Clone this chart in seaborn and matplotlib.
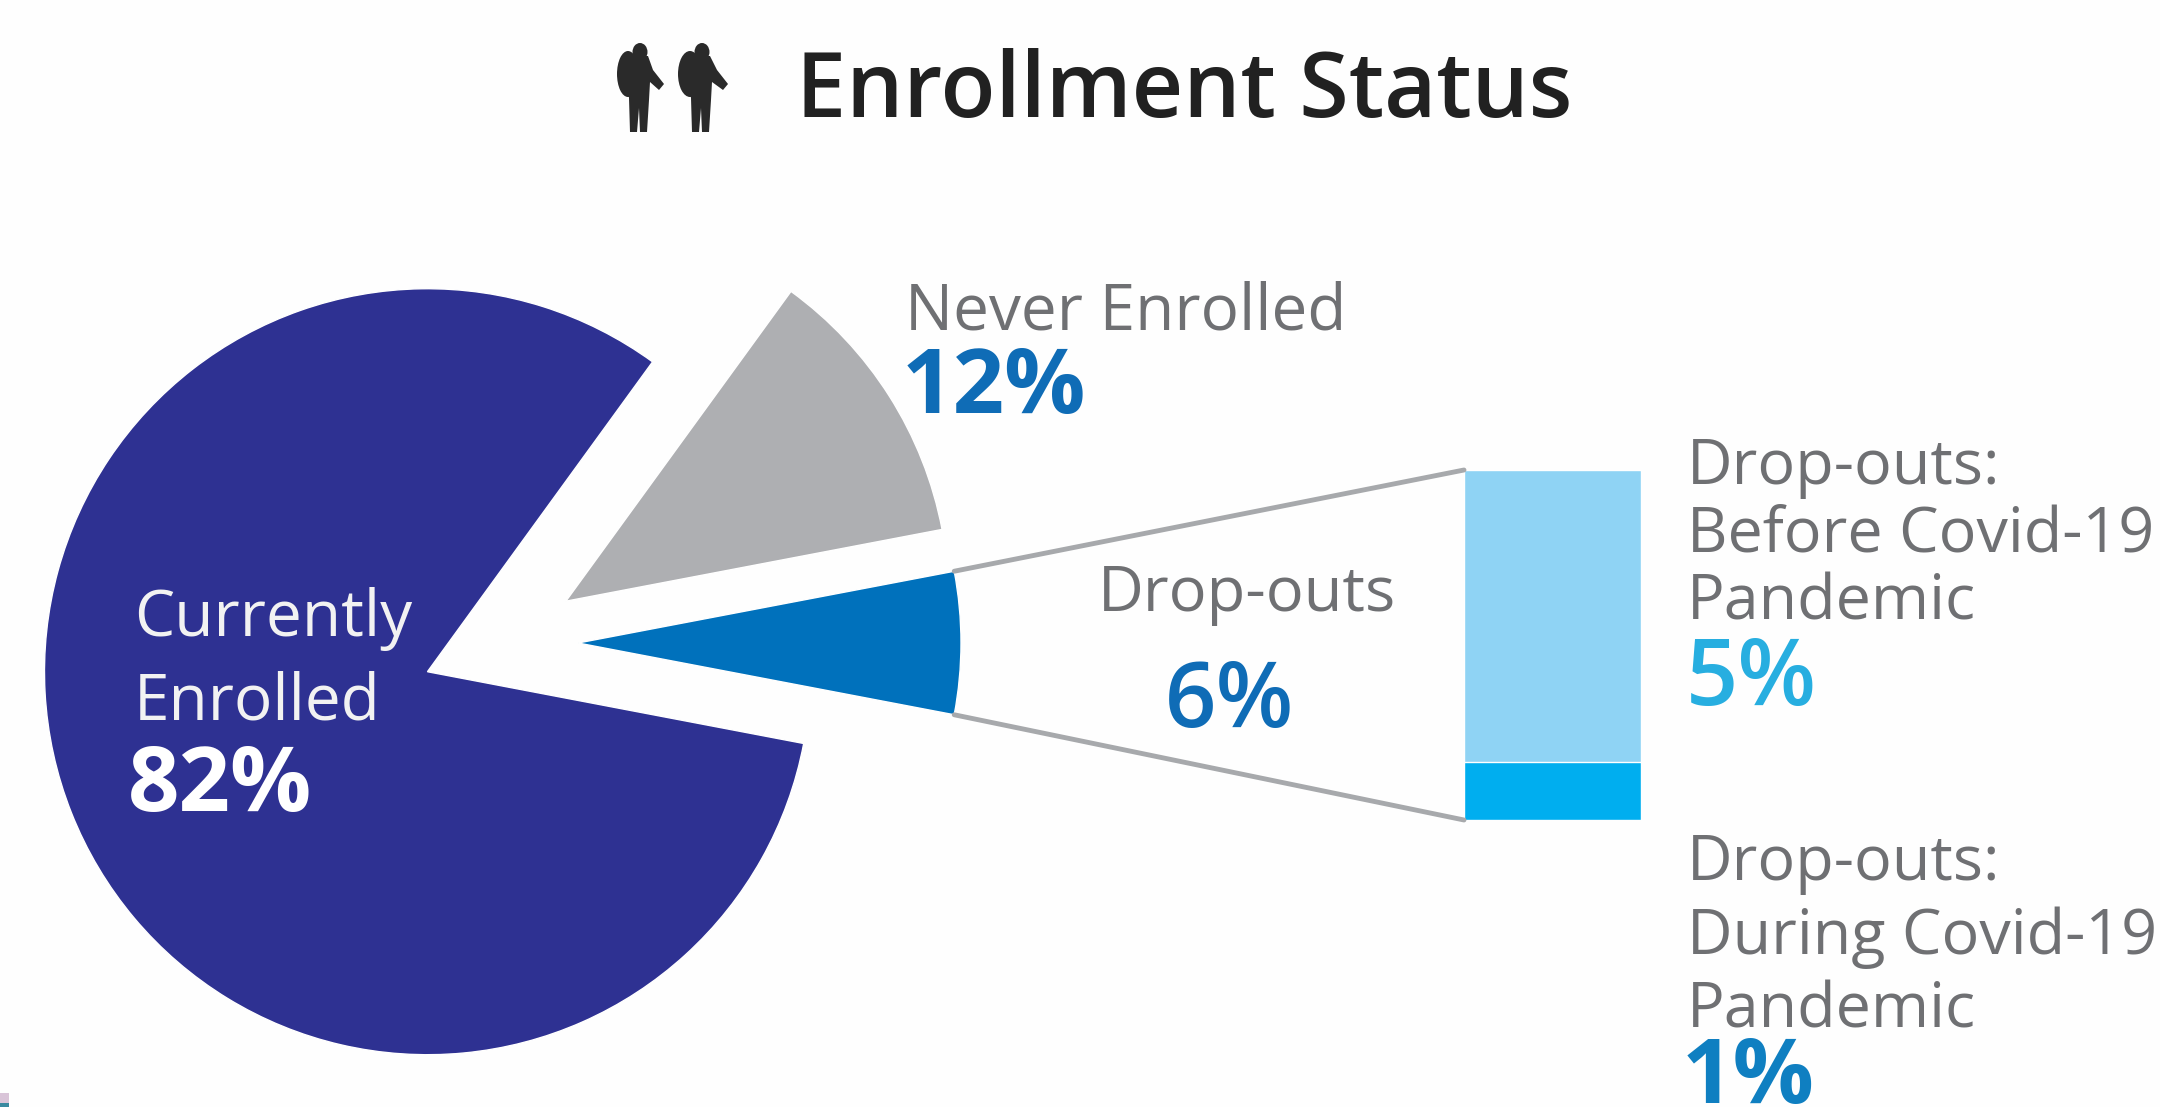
import matplotlib
matplotlib.use("Agg")
import matplotlib.pyplot as plt
from matplotlib.patches import ConnectionPatch, Ellipse, Polygon, Rectangle
import numpy as np
import seaborn as sns

# Enrollment shares, in percent
status_names = ["Currently Enrolled", "Drop-outs", "Never Enrolled"]
status_shares = [82, 6, 12]
status_colors = ["#2e3192", "#0071bc", "#aeafb2"]

# Breakdown of the drop-out share, in percent
dropout_before = 5
dropout_during = 1
dropout_total = 6

GREY = "#6f7073"
W, H = 2160, 1107
BG = "#fefefe"

sns.set_theme(style="white")
plt.rcParams["font.family"] = ["Open Sans", "DejaVu Sans"]

fig = plt.figure(figsize=(W / 100, H / 100), dpi=100, facecolor=BG)
ax = fig.add_axes([0, 0, 1, 1], facecolor=BG)

# Exploded pie, one slice per enrollment status
wedges, _ = ax.pie(
    status_shares,
    colors=status_colors,
    startangle=54,
    explode=[78] * len(status_shares),
    radius=383,
    center=(500, H - 643),
    frame=True,
)
ax.set_xlim(0, W)
ax.set_ylim(0, H)
ax.set_aspect("equal")
ax.axis("off")

# Stacked bar that expands the drop-out slice
bar_ax = fig.add_axes([1464 / W, 1 - 820 / H, 177 / W, 350 / H])
sns.barplot(x=["Drop-outs"], y=[dropout_before + dropout_during], color="#8fd3f4",
            width=1, saturation=1, ax=bar_ax)
sns.barplot(x=["Drop-outs"], y=[dropout_during], color="#00aeef",
            width=1, saturation=1, ax=bar_ax)
bar_ax.set_xlim(-0.5, 0.5)
bar_ax.set_ylim(0, dropout_total)
bar_ax.axis("off")

# Connector lines from the slice's outer corners to the bar's left corners
slice_ = wedges[1]
for angle, bar_y in ((slice_.theta2, dropout_total), (slice_.theta1, 0)):
    rad = np.deg2rad(angle)
    start = (slice_.center[0] + slice_.r * np.cos(rad),
             slice_.center[1] + slice_.r * np.sin(rad))
    fig.add_artist(ConnectionPatch(start, (-0.5, bar_y), coordsA=ax.transData,
                                   coordsB=bar_ax.transData, color="#a7a9ac", lw=3.5))


def label(x, y, text, size, color, weight="normal", ha="left"):
    ax.text(x, H - y, text, fontsize=size, color=color, fontweight=weight,
            ha=ha, va="baseline", clip_on=True)


label(796, 117, "Enrollment Status", 64.7, "#212121", "semibold")

label(134, 636, "Currently", 46, "#f2f2f2")
label(134, 720, "Enrolled", 46, "#f2f2f2")
label(128, 811, f"{status_shares[0]}%", 65, "#ffffff", "bold")

label(905, 329, status_names[2], 46, GREY)
label(902, 413, f"{status_shares[2]}%", 65, "#0f6cb6", "bold")

label(1247, 611, status_names[1], 45.5, GREY, ha="center")
label(1230, 727, f"{dropout_total}%", 65, "#0f6cb6", "semibold", ha="center")

label(1687, 484, "Drop-outs:", 45.3, GREY)
label(1687, 552, "Before Covid-19", 45.3, GREY)
label(1687, 620, "Pandemic", 45.3, GREY)
label(1686, 705, f"{dropout_before}%", 66, "#27aee0", "semibold")

label(1687, 880, "Drop-outs:", 45.3, GREY)
label(1687, 954, "During Covid-19", 45.3, GREY)
label(1687, 1027, "Pandemic", 45.3, GREY)
label(1682, 1103, f"{dropout_during}%", 65, "#0f7fc1", "bold")


def person(dx, widen):
    """Small standing silhouette with a backpack, placed beside the title."""
    ink = "#2a2a2a"
    cx = 640 + dx
    pts = [(-8, 56), (8, 56), (13 + widen, 70), (24 + widen, 84), (19 + widen, 90),
           (10, 82), (9, 100), (7, 132), (0, 132), (-1, 108), (-3, 132), (-10, 132),
           (-11, 98), (-14, 78)]
    ax.add_patch(Polygon([(cx + a, H - b) for a, b in pts], closed=True, fc=ink, ec="none"))
    ax.add_patch(Ellipse((cx, H - 52), 15, 18, fc=ink, ec="none"))
    ax.add_patch(Ellipse((cx - 12, H - 74), 22 + widen, 46, fc=ink, ec="none"))


person(0, 0)
person(62, 2)

# Sliver of the neighbouring panel in the lower-left corner
ax.add_patch(Rectangle((0, 0), 9, 4, fc="#3a8aa0", ec="none"))
ax.add_patch(Rectangle((0, 4), 9, 10, fc="#d9c4d8", ec="none"))

fig.savefig("out.png", dpi=100, facecolor=BG)
